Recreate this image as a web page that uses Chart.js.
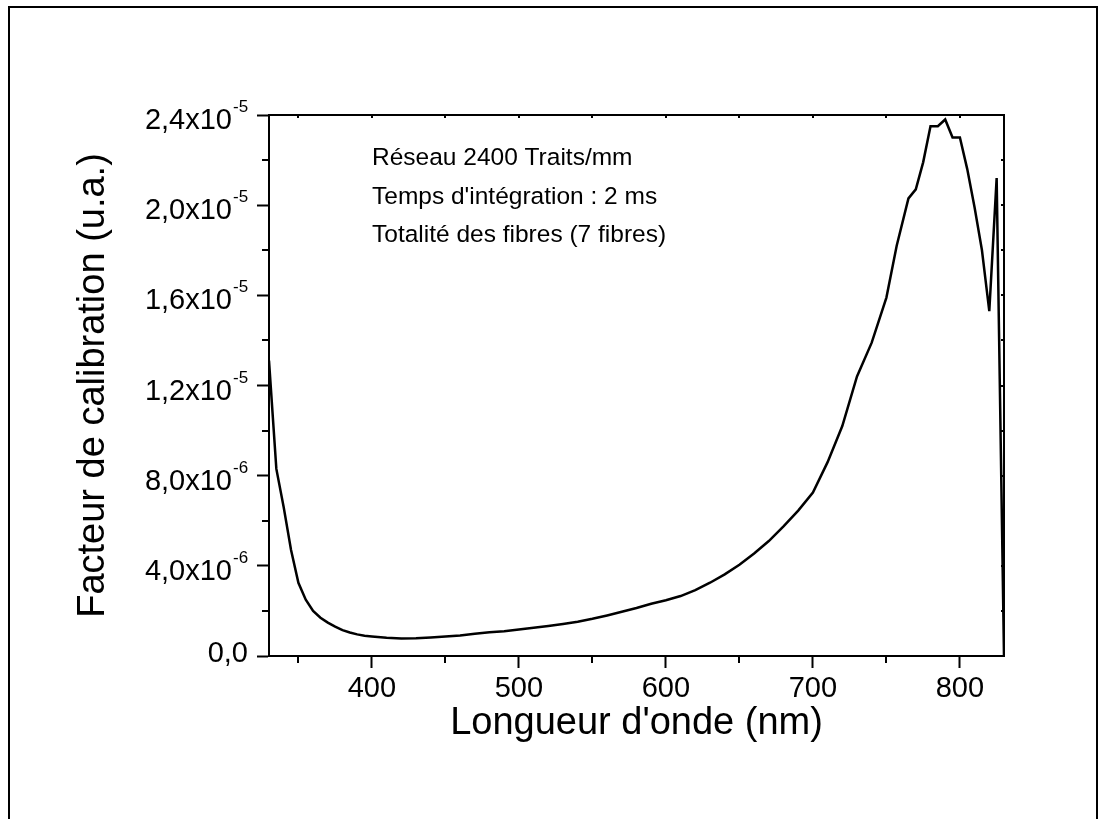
<!DOCTYPE html>
<html>
<head>
<meta charset="utf-8">
<script src="https://cdn.jsdelivr.net/npm/chart.js@4/dist/chart.umd.min.js"></script>
<style>
  html, body { margin: 0; padding: 0; background: #fff; }
  #wrap { width: 1102px; height: 819px; }
</style>
</head>
<body>
<div id="wrap"><canvas id="calib"></canvas></div>
<script>
// wavelength (nm) and calibration factor (u.a.)
const wavelengths = [330, 335, 340, 345, 350, 355, 360, 365, 370, 375, 380, 385, 390, 395, 400,
  410, 420, 430, 440, 450, 460, 470, 480, 490, 500, 510, 520, 530, 540, 550, 560, 570, 580, 590,
  600, 610, 620, 630, 640, 650, 660, 670, 680, 690, 700, 710, 720, 730, 740, 750, 757, 765, 770,
  775, 780, 785, 790, 795, 800, 805, 810, 815, 820, 825, 830];
const calibFactor = [13.1e-6, 8.3e-6, 6.6e-6, 4.7e-6, 3.25e-6, 2.5e-6, 2.0e-6, 1.7e-6, 1.48e-6, 1.3e-6,
  1.15e-6, 1.04e-6, 0.96e-6, 0.9e-6, 0.87e-6, 0.81e-6, 0.78e-6, 0.79e-6, 0.82e-6, 0.86e-6, 0.91e-6,
  0.99e-6, 1.05e-6, 1.1e-6, 1.18e-6, 1.25e-6, 1.33e-6, 1.42e-6, 1.52e-6, 1.65e-6, 1.8e-6, 1.96e-6,
  2.13e-6, 2.32e-6, 2.47e-6, 2.66e-6, 2.92e-6, 3.25e-6, 3.62e-6, 4.05e-6, 4.55e-6, 5.1e-6, 5.75e-6,
  6.45e-6, 7.25e-6, 8.6e-6, 10.2e-6, 12.4e-6, 13.9e-6, 15.9e-6, 18.2e-6, 20.3e-6, 20.7e-6, 21.9e-6,
  23.5e-6, 23.5e-6, 23.8e-6, 23.0e-6, 23.0e-6, 21.6e-6, 19.9e-6, 18.0e-6, 15.3e-6, 21.2e-6, 0];

const xMajor = [400, 500, 600, 700, 800];
const xMinor = [350, 450, 550, 650, 750];
const xTickLabels = ['400', '500', '600', '700', '800'];
const yMajor = [0, 4e-6, 8e-6, 1.2e-5, 1.6e-5, 2.0e-5, 2.4e-5];
const yMinor = [2e-6, 6e-6, 1.0e-5, 1.4e-5, 1.8e-5, 2.2e-5];
const yTickBase = ['0,0', '4,0x10', '8,0x10', '1,2x10', '1,6x10', '2,0x10', '2,4x10'];
const yTickExp = ['', '-6', '-6', '-5', '-5', '-5', '-5'];
const notes = ['Réseau 2400 Traits/mm', "Temps d'intégration : 2 ms", 'Totalité des fibres (7 fibres)'];

const FONT = '"Liberation Sans", Arial, sans-serif';
const points = wavelengths.map((w, i) => ({ x: w, y: calibFactor[i] }));

const decor = {
  id: 'decor',
  beforeDraw(chart) {
    const ctx = chart.ctx;
    ctx.save();
    ctx.fillStyle = '#fff';
    ctx.fillRect(0, 0, chart.width, chart.height);
    ctx.strokeStyle = '#000';
    ctx.lineWidth = 2;
    ctx.strokeRect(9, 7, 1088, 830);
    ctx.restore();
  },
  afterDraw(chart) {
    const { ctx, chartArea: a, scales: { x, y } } = chart;
    ctx.save();
    ctx.strokeStyle = '#000';
    ctx.lineWidth = 2;
    // top and right axis lines
    ctx.beginPath();
    ctx.moveTo(a.left - 1, a.top);
    ctx.lineTo(a.right, a.top);
    ctx.lineTo(a.right, a.bottom + 1);
    ctx.stroke();

    ctx.beginPath();
    // minor ticks outside
    xMinor.forEach(v => {
      const px = Math.round(x.getPixelForValue(v));
      ctx.moveTo(px, a.bottom); ctx.lineTo(px, a.bottom + 7);
    });
    yMinor.forEach(v => {
      const py = Math.round(y.getPixelForValue(v));
      ctx.moveTo(a.left, py); ctx.lineTo(a.left - 7, py);
    });
    // small inner ticks on top and right
    xMajor.concat(xMinor).forEach(v => {
      const px = Math.round(x.getPixelForValue(v));
      ctx.moveTo(px, a.top); ctx.lineTo(px, a.top + 3);
    });
    yMajor.concat(yMinor).forEach(v => {
      const py = Math.round(y.getPixelForValue(v));
      ctx.moveTo(a.right, py); ctx.lineTo(a.right - 3, py);
    });
    ctx.stroke();

    // y tick labels with exponents
    ctx.fillStyle = '#000';
    ctx.textBaseline = 'alphabetic';
    yMajor.forEach((v, i) => {
      const py = y.getPixelForValue(v);
      ctx.font = '29px ' + FONT;
      ctx.textAlign = 'right';
      if (yTickExp[i]) {
        ctx.fillText(yTickBase[i], 232, py + 14);
        ctx.font = '17px ' + FONT;
        ctx.textAlign = 'left';
        ctx.fillText(yTickExp[i], 233, py - 3);
      } else {
        ctx.fillText(yTickBase[i], 248, py + 6);
      }
    });

    // annotation
    ctx.font = '24.5px ' + FONT;
    ctx.textAlign = 'left';
    notes.forEach((t, i) => ctx.fillText(t, 372, 165 + i * 38.5));
    ctx.restore();
  }
};

new Chart(document.getElementById('calib'), {
  type: 'line',
  data: {
    datasets: [{
      data: points,
      borderColor: '#000',
      borderWidth: 2.5,
      pointRadius: 0,
      tension: 0,
      fill: false
    }]
  },
  options: {
    responsive: true,
    maintainAspectRatio: false,
    animation: false,
    layout: { padding: { left: 10, top: 115, right: 98, bottom: 10 } },
    plugins: { legend: { display: false }, tooltip: { enabled: false } },
    scales: {
      x: {
        type: 'linear',
        min: 330,
        max: 830,
        afterBuildTicks: s => { s.ticks = xMajor.map(v => ({ value: v })); },
        afterFit: s => { s.height = 153; },
        ticks: {
          color: '#000',
          font: { family: FONT, size: 29 },
          padding: 4,
          maxRotation: 0,
          callback: (v, i) => xTickLabels[i]
        },
        grid: { drawOnChartArea: false, drawTicks: true, tickLength: 12, tickWidth: 2, tickColor: '#000' },
        border: { display: true, color: '#000', width: 2 },
        title: {
          display: true,
          text: "Longueur d'onde (nm)",
          color: '#000',
          font: { family: FONT, size: 38 },
          padding: { bottom: 63 }
        }
      },
      y: {
        type: 'linear',
        min: 0,
        max: 2.4e-5,
        afterBuildTicks: s => { s.ticks = yMajor.map(v => ({ value: v })); },
        afterFit: s => { s.width = 259; },
        ticks: { display: false },
        grid: { drawOnChartArea: false, drawTicks: true, tickLength: 12, tickWidth: 2, tickColor: '#000' },
        border: { display: true, color: '#000', width: 2 },
        title: {
          display: true,
          text: 'Facteur de calibration (u.a.)',
          color: '#000',
          font: { family: FONT, size: 38 },
          padding: { top: 61 }
        }
      }
    }
  },
  plugins: [decor]
});
</script>
</body>
</html>
